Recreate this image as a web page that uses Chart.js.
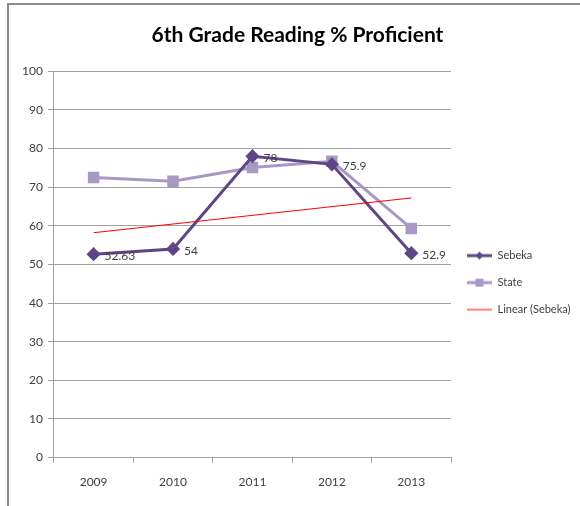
<!DOCTYPE html>
<html>
<head>
<meta charset="utf-8">
<script src="https://cdn.jsdelivr.net/npm/chart.js@4.4.0/dist/chart.umd.min.js"></script>
<style>
html,body{margin:0;padding:0;background:#fff;}
#frame{position:absolute;left:7px;top:3px;width:573px;height:503px;border-left:2px solid #8c8c8c;border-top:2px solid #8c8c8c;box-sizing:border-box;}
#wrap{position:absolute;left:0;top:0;width:571px;height:501px;}
</style>
</head>
<body>
<div id="frame"><div id="wrap"><canvas id="c"></canvas></div></div>
<script>
const YEARS = ['2009','2010','2011','2012','2013'];
const SEBEKA = [52.63, 54, 78, 75.9, 52.9];
const STATE = [72.5, 71.5, 75.1, 76.7, 59.3];
const TREND = [58.2, null, null, null, 67.2];
const Y_TICKS = [0,10,20,30,40,50,60,70,80,90,100];

const FONT = "Lato,'DejaVu Sans Condensed',sans-serif";
const C_SEB = '#5e4587', C_STA = '#a898c4', C_TR = '#ff0000';

function legendIcon(color, shape){
  const cv = document.createElement('canvas');
  cv.width = 25; cv.height = 12;
  const g = cv.getContext('2d');
  g.strokeStyle = color; g.fillStyle = color;
  g.lineWidth = shape ? 3 : 1;
  g.beginPath(); g.moveTo(0,6); g.lineTo(25,6); g.stroke();
  if(shape==='d'){g.beginPath();g.moveTo(12.5,2);g.lineTo(16.5,6);g.lineTo(12.5,10);g.lineTo(8.5,6);g.closePath();g.fill();}
  if(shape==='s'){g.fillRect(8.5,2,8,8);}
  return cv;
}
const icons = [legendIcon(C_SEB,'d'), legendIcon(C_STA,'s'), legendIcon(C_TR,null)];

const valueLabels = {
  id:'valueLabels',
  afterDatasetsDraw(chart){
    const ctx = chart.ctx;
    const meta = chart.getDatasetMeta(0);
    ctx.save();
    ctx.font = '12px '+FONT;
    ctx.fillStyle = '#404040';
    ctx.textBaseline = 'middle';
    meta.data.forEach((pt,i)=>{
      ctx.fillText(String(SEBEKA[i]), pt.x+11, pt.y+2);
    });
    ctx.restore();
  }
};

new Chart('c',{
  type:'line',
  data:{
    labels:YEARS,
    datasets:[
      {label:'Sebeka',data:SEBEKA,borderColor:C_SEB,backgroundColor:C_SEB,borderWidth:3,pointStyle:'rectRot',pointRadius:5,pointHoverRadius:5,tension:0,order:1},
      {label:'State',data:STATE,borderColor:C_STA,backgroundColor:C_STA,borderWidth:3,pointStyle:'rect',pointRadius:6,pointHoverRadius:6,tension:0,order:2},
      {label:'Linear (Sebeka)',data:TREND,borderColor:C_TR,backgroundColor:C_TR,borderWidth:1,pointRadius:0,spanGaps:true,tension:0,order:0}
    ]
  },
  options:{
    responsive:true,maintainAspectRatio:false,animation:false,
    layout:{padding:{top:0,right:2,bottom:5,left:8}},
    plugins:{
      title:{display:true,text:'6th Grade Reading % Proficient',color:'#000',
        font:{family:FONT,size:21,weight:'bold'},padding:{top:18,bottom:23}},
      legend:{position:'right',align:'center',maxWidth:127,
        title:{display:true,text:'',font:{size:1},padding:{top:0,bottom:58}},
        labels:{usePointStyle:true,pointStyleWidth:25,color:'#404040',font:{family:FONT,size:11},padding:16,
          generateLabels:(chart)=>chart.data.datasets.map((d,i)=>({text:d.label,pointStyle:icons[i],datasetIndex:i,fontColor:'#404040',lineWidth:0,strokeStyle:'transparent',fillStyle:'transparent'}))}},
      tooltip:{enabled:false}
    },
    scales:{
      x:{offset:true,
        grid:{display:true,drawOnChartArea:false,offset:true,color:'#a0a0a0',tickLength:5},
        border:{color:'#a0a0a0'},
        ticks:{color:'#404040',font:{family:FONT,size:12},padding:12}},
      y:{min:0,max:100,
        afterBuildTicks:(ax)=>{ax.ticks=Y_TICKS.map(v=>({value:v}));},
        grid:{color:'#a0a0a0',tickLength:6},
        border:{color:'#a0a0a0'},
        ticks:{color:'#404040',font:{family:FONT,size:12},padding:5}}
    }
  },
  plugins:[valueLabels]
});
</script>
</body>
</html>
